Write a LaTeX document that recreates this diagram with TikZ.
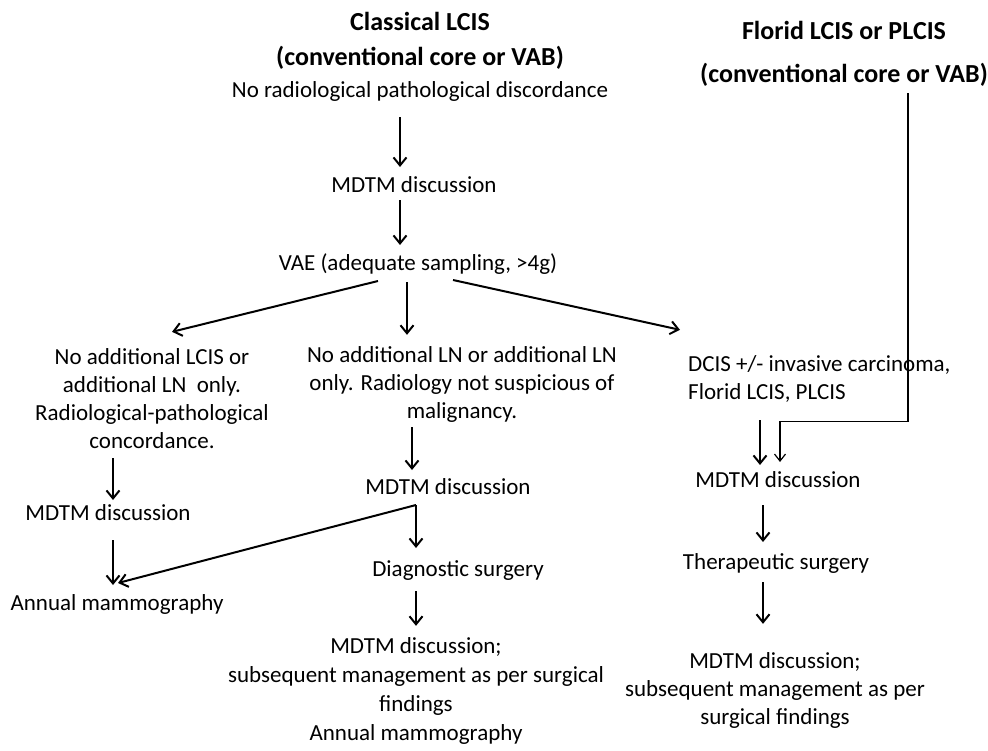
\documentclass[tikz,border=0pt]{standalone}
\usepackage{fontspec}
\setmainfont{Carlito}
\usetikzlibrary{arrows.meta}

\begin{document}
\begin{tikzpicture}[x=1pt, y=-1pt,
  txt/.style={inner sep=0pt, font=\fontsize{23}{28}\selectfont, align=center},
  head/.style={inner sep=0pt, font=\bfseries\fontsize{26}{35}\selectfont, align=center},
  arr/.style={line width=2pt, -{Straight Barb[length=8pt,width=13pt]}},
  thinarr/.style={line width=1.2pt, -{Straight Barb[length=7pt,width=11pt]}}]
  \useasboundingbox (0,0) rectangle (988,750);
  % titles (base = last line)
  \node[head, anchor=base] (lcis) at (420,65) {Classical LCIS\\(conventional core or VAB)};
  \node[head, anchor=base] (plcis) at (844,82) {Florid LCIS or PLCIS\\[8pt](conventional core or VAB)};
  % classical branch
  \node[txt, anchor=base] (nodisc) at (420,97) {No radiological pathological discordance};
  \node[txt, anchor=base] (mdtmA) at (414,192) {MDTM discussion};
  \node[txt, anchor=base] (vae) at (418,270) {VAE (adequate sampling, >4g)};
  \node[txt, anchor=base] (noLCIS) at (152,448) {No additional LCIS or\\additional LN~ only.\\Radiological-pathological\\concordance.};
  \node[txt, anchor=base] (noLN) at (462,418) {No additional LN or additional LN\\only. Radiology not suspicious of\\malignancy.};
  \node[txt, anchor=base west, align=left] (dcis) at (688,399) {DCIS +/- invasive carcinoma,\\Florid LCIS, PLCIS};
  \node[txt, anchor=base] (mdtmB) at (108,520) {MDTM discussion};
  \node[txt, anchor=base] (annualA) at (117,610) {Annual mammography};
  \node[txt, anchor=base] (mdtmC) at (448,494) {MDTM discussion};
  \node[txt, anchor=base] (diag) at (458,576) {Diagnostic surgery};
  \node[txt, anchor=base, font=\fontsize{23}{29}\selectfont] (mgmtA) at (416,740) {MDTM discussion;\\subsequent management as per surgical\\findings\\Annual mammography};
  % florid branch
  \node[txt, anchor=base] (mdtmD) at (778,487) {MDTM discussion};
  \node[txt, anchor=base] (ther) at (776,569) {Therapeutic surgery};
  \node[txt, anchor=base] (mgmtB) at (775,724) {MDTM discussion;\\subsequent management as per\\surgical findings};

  \draw[arr] ([xshift=-20pt,yshift=-20pt]nodisc.base) -- ([xshift=-14pt,yshift=25pt]mdtmA.base);
  \draw[arr] ([xshift=-14pt,yshift=-8pt]mdtmA.base) -- ([xshift=-18pt,yshift=25pt]vae.base);
  \draw[arr] ([xshift=-40pt,yshift=-11pt]vae.base) -- ([xshift=20pt,yshift=16pt]noLCIS.north);
  \draw[arr] ([xshift=-11pt,yshift=-12pt]vae.base) -- ([xshift=-55pt,yshift=11pt]noLN.north);
  \draw[arr] ([xshift=35pt,yshift=-10pt]vae.base) -- ([xshift=-8pt,yshift=25pt]dcis.north west);
  \draw[arr] ([xshift=-39pt,yshift=-10pt]noLCIS.south) -- ([xshift=5pt,yshift=20pt]mdtmB.base);
  \draw[arr] ([xshift=5pt,yshift=-20pt]mdtmB.base) -- ([xshift=-4pt,yshift=25pt]annualA.base);
  \draw[arr] ([xshift=-50pt,yshift=-5pt]noLN.south) -- ([xshift=-36pt,yshift=24pt]mdtmC.base);
  \draw[arr] ([xshift=-32pt,yshift=-11pt]mdtmC.base) -- ([xshift=-42pt,yshift=28pt]diag.base);
  \draw[arr] ([xshift=-32pt,yshift=-11pt]mdtmC.base) -- ([xshift=1pt,yshift=27pt]annualA.base);
  \draw[arr] ([xshift=-42pt,yshift=-15pt]diag.base) -- ([yshift=11pt]mgmtA.north);

  \draw[thinarr] ([xshift=64pt,yshift=-7pt]plcis.south) -- ++(0,328) -| ([xshift=2pt,yshift=25pt]mdtmD.base);
  \draw[arr] ([xshift=72pt,yshift=-18pt]dcis.south west) -- ([xshift=-18pt,yshift=22pt]mdtmD.base);
  \draw[arr] ([xshift=-15pt,yshift=-18pt]mdtmD.base) -- ([xshift=-13pt,yshift=27pt]ther.base);
  \draw[arr] ([xshift=-13pt,yshift=-13pt]ther.base) -- ([xshift=-12pt,yshift=28pt]mgmtB.north);
\end{tikzpicture}
\end{document}
